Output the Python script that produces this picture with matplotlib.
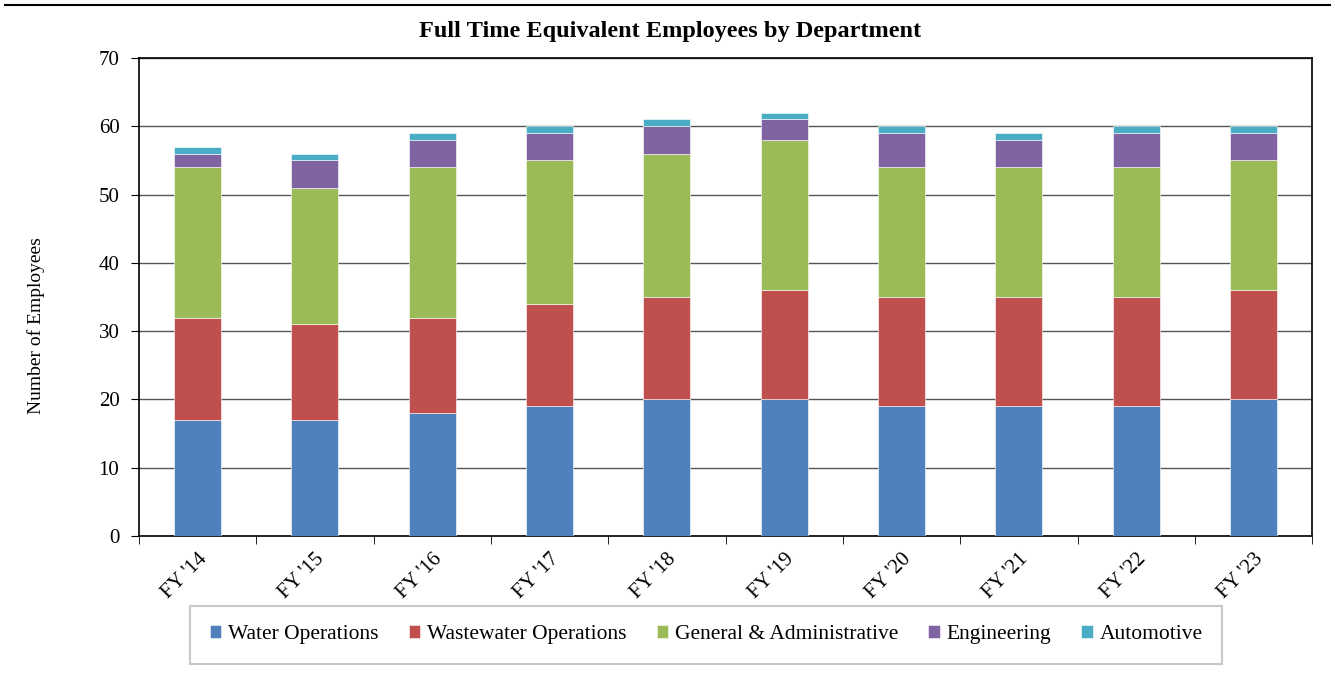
import matplotlib
matplotlib.use("Agg")
import matplotlib.pyplot as plt
from matplotlib.lines import Line2D
import numpy as np

years = ["FY '14", "FY '15", "FY '16", "FY '17", "FY '18",
         "FY '19", "FY '20", "FY '21", "FY '22", "FY '23"]
water = [17, 17, 18, 19, 20, 20, 19, 19, 19, 20]
wastewater = [15, 14, 14, 15, 15, 16, 16, 16, 16, 16]
general_admin = [22, 20, 22, 21, 21, 22, 19, 19, 19, 19]
engineering = [2, 4, 4, 4, 4, 3, 5, 4, 5, 4]
automotive = [1, 1, 1, 1, 1, 1, 1, 1, 1, 1]

series = [
    ("Water Operations", water, "#4F81BD"),
    ("Wastewater Operations", wastewater, "#C0504D"),
    ("General & Administrative", general_admin, "#9BBB59"),
    ("Engineering", engineering, "#8064A2"),
    ("Automotive", automotive, "#4BACC6"),
]

plt.rcParams["font.family"] = ["Liberation Serif", "DejaVu Serif"]

fig = plt.figure(figsize=(13.35, 6.82), dpi=100)
ax = fig.add_axes([0.104, 0.214, 0.879, 0.701])

x = np.arange(len(years))
bottom = np.zeros(len(years))
for label, vals, color in series:
    ax.bar(x, vals, width=0.4, bottom=bottom, color=color, label=label,
           edgecolor="white", linewidth=0.4, zorder=3)
    bottom += np.array(vals)

ax.set_xlim(-0.5, len(years) - 0.5)
ax.set_ylim(0, 70)
ax.set_yticks(range(0, 71, 10))
ax.yaxis.grid(True, color="#555555", linewidth=1.0, zorder=0)
ax.set_axisbelow(True)

# category labels centred, tick marks between categories
ax.set_xticks(x)
ax.set_xticklabels(years, rotation=45, ha="right", va="top",
                   rotation_mode="anchor", fontsize=15)
ax.tick_params(axis="x", which="major", length=0, pad=10)
ax.set_xticks(np.arange(-0.5, len(years)), minor=True)
ax.tick_params(axis="x", which="minor", length=6, direction="out")
ax.tick_params(axis="y", length=6, direction="out", labelsize=15, pad=8)

for s in ax.spines.values():
    s.set_color("black")
    s.set_linewidth(1.2)

ax.set_ylabel("Number of Employees", fontsize=14)
ax.yaxis.set_label_coords(-0.08, 0.44)
fig.suptitle("Full Time Equivalent Employees by Department",
             x=0.502, y=0.954, va="center", fontsize=17.5, fontweight="bold")

leg = fig.legend(loc="center", bbox_to_anchor=(0.529, 0.069), ncol=5,
                 fontsize=15.5, frameon=True, fancybox=False,
                 handlelength=0.55, handleheight=0.55, handletextpad=0.3,
                 columnspacing=1.4, borderpad=0.9)
leg.get_frame().set_edgecolor("#bbbbbb")
leg.get_frame().set_linewidth(1.5)

fig.add_artist(Line2D([0.004, 0.996], [0.993, 0.993], color="black",
                      linewidth=1.5, transform=fig.transFigure))

fig.savefig("out.png", dpi=100)
